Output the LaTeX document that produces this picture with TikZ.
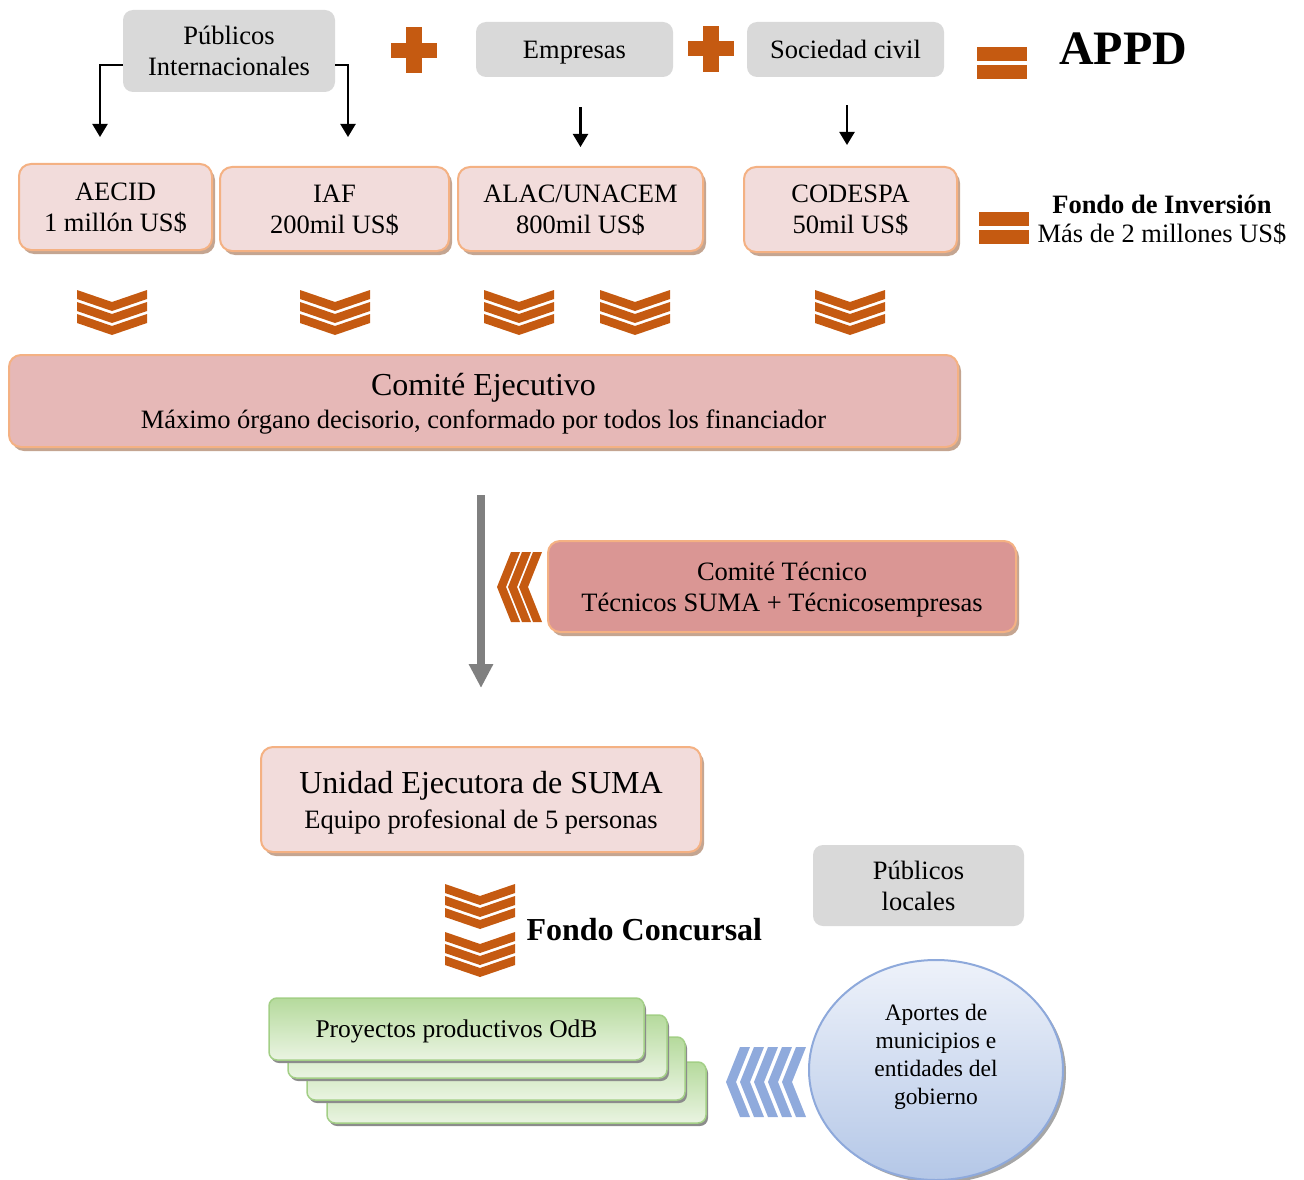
\documentclass[tikz,border=0pt]{standalone}
\usepackage{fontspec}
\setmainfont{Liberation Serif}
\usetikzlibrary{arrows.meta,shapes.geometric,shadows}

\definecolor{naranja}{HTML}{C55A11}
\definecolor{grisclaro}{HTML}{D9D9D9}
\definecolor{rosaclaro}{HTML}{F2DCDB}
\definecolor{rosamedio}{HTML}{E6B8B7}
\definecolor{rosaoscuro}{HTML}{DA9694}
\definecolor{durazno}{HTML}{F4B183}
\definecolor{sombra}{HTML}{C4A591}
\definecolor{verdeborde}{HTML}{A3CF86}
\definecolor{verdeosc}{HTML}{B5DA9C}
\definecolor{verdeclaro}{HTML}{EAF4E2}
\definecolor{azulborde}{HTML}{8EA9DB}
\definecolor{azulchev}{HTML}{8FAADC}
\definecolor{azulclaro}{HTML}{EEF2FA}
\definecolor{azulosc}{HTML}{B4C7E7}

\tikzset{
  texto/.style={font=\fontsize{26.5}{31}\selectfont, text depth=0pt},
  gris/.style={texto, fill=grisclaro, rounded corners=10pt, align=center, inner sep=0pt},
  rosa/.style={texto, fill=rosaclaro, draw=durazno, line width=2pt, rounded corners=12pt,
    align=center, inner sep=0pt,
    drop shadow={shadow xshift=3pt, shadow yshift=-4pt, fill=sombra, opacity=1}},
  verde/.style={draw=verdeborde, line width=1.5pt, rounded corners=8pt,
    top color=verdeosc, bottom color=verdeclaro, inner sep=0pt,
    drop shadow={shadow xshift=2pt, shadow yshift=-3pt, fill=black!45, opacity=1}},
  flecha/.style={line width=2.2pt, -{Triangle[width=15pt,length=13pt]}},
  flechagris/.style={line width=8pt, draw=black!50, -{Triangle[width=23pt,length=24pt]}}
}

\begin{document}
\begin{tikzpicture}[x=1pt,y=-1pt]
  \useasboundingbox (0,0) rectangle (1304,1180);

  \node[gris, minimum width=212pt, minimum height=82pt] (pubint) at (229,51) {Públicos\\Internacionales};
  \node[gris, minimum width=197pt, minimum height=55pt] (empresas) at (574.5,49.5) {Empresas};
  \node[gris, minimum width=197pt, minimum height=55pt] (sociedad) at (845.5,49.5) {Sociedad civil};

  \foreach \cx/\cy in {414/50.5, 711/49}
  {
    \fill[naranja] (\cx-23,\cy-7.5) rectangle (\cx+23,\cy+7.5);
    \fill[naranja] (\cx-8,\cy-23) rectangle (\cx+8,\cy+23);
  }
  \fill[naranja] (977,47) rectangle (1027,61);
  \fill[naranja] (977,65) rectangle (1027,79);
  \node[anchor=base, font=\bfseries\fontsize{48}{50}\selectfont] (appd) at (1123,65) {APPD};

  \node[rosa, minimum width=193pt, minimum height=86pt] (aecid) at (115.5,207) {AECID\\1 millón US\$};
  \node[rosa, minimum width=229pt, minimum height=84pt] (iaf) at (334.5,209) {IAF\\200mil US\$};
  \node[rosa, minimum width=245pt, minimum height=84pt] (alac) at (580.5,209) {ALAC/UNACEM\\800mil US\$};
  \node[rosa, minimum width=213pt, minimum height=85pt] (codespa) at (850.5,209.5) {CODESPA\\50mil US\$};

  \fill[naranja] (979,212) rectangle (1029,226);
  \fill[naranja] (979,230) rectangle (1029,244);
  \node[align=center, font=\fontsize{26.5}{29}\selectfont] (fondoinv) at (1162,220) {\textbf{Fondo de Inversión}\\Más de 2 millones US\$};

  \coordinate (pil) at (100,137);
  \coordinate (pir) at (348,137);
  \draw[flecha] ([yshift=-14pt]pubint.west) -| (pil);
  \draw[flecha] ([yshift=-14pt]pubint.east) -| (pir);
  \draw[flecha] ([yshift=-30pt]empresas.south -| alac.north) -- ([yshift=19pt]alac.north);
  \draw[flecha] ([yshift=-28pt]sociedad.south -| 847,0) -- ([yshift=21pt]codespa.north -| 847,0);

  \foreach \cx in {112,335,519,635,850}
    \foreach \i in {0,1,2}
      \fill[naranja] (\cx-35,290+12*\i) -- (\cx,302+12*\i) -- (\cx+35,290+12*\i)
        -- (\cx+35,299+12*\i) -- (\cx,311+12*\i) -- (\cx-35,299+12*\i) -- cycle;

  \node[rosa, fill=rosamedio, minimum width=949pt, minimum height=92pt, font=\fontsize{26.5}{33}\selectfont] (comejec) at (483.5,401)
    {{\fontsize{32}{33}\selectfont Comité Ejecutivo}\\Máximo órgano decisorio, conformado por todos los financiador};

  \coordinate (gini) at (481,495);
  \coordinate (gfin) at (481,688);
  \draw[flechagris] (gini) -- (gfin);

  \node[rosa, fill=rosaoscuro, minimum width=468pt, minimum height=91pt] (comtec) at (782,586.5)
    {Comité Técnico\\Técnicos SUMA + Técnicosempresas};
  \foreach \i in {0,1,2}
    \fill[naranja] (511+11*\i,552) -- (497+11*\i,587) -- (511+11*\i,622)
      -- (520+11*\i,622) -- (506+11*\i,587) -- (520+11*\i,552) -- cycle;

  \node[rosa, minimum width=440pt, minimum height=105pt, font=\fontsize{26.5}{35}\selectfont] (unidad) at (481,799.5)
    {{\fontsize{32}{35}\selectfont Unidad Ejecutora de SUMA}\\Equipo profesional de 5 personas};

  \foreach \cy in {884,932}
    \foreach \i in {0,1,2}
      \fill[naranja] (445,\cy+12*\i) -- (480,\cy+12+12*\i) -- (515,\cy+12*\i)
        -- (515,\cy+9+12*\i) -- (480,\cy+21+12*\i) -- (445,\cy+9+12*\i) -- cycle;
  \node[anchor=base west, font=\bfseries\fontsize{32}{36}\selectfont] (concursal) at (523,940) {Fondo Concursal};

  \node[gris, minimum width=211pt, minimum height=81pt] (publoc) at (918.5,885.5) {Públicos\\locales};

  \node[verde, minimum width=379pt, minimum height=61pt] (proy4) at (516.5,1092.5) {};
  \node[verde, minimum width=378pt, minimum height=63pt] (proy3) at (496,1068.5) {};
  \node[verde, minimum width=379pt, minimum height=63pt] (proy2) at (477.5,1046.5) {};
  \node[verde, minimum width=375pt, minimum height=62pt, font=\fontsize{25.5}{30}\selectfont, text depth=0pt] (proy1) at (456.5,1029) {Proyectos productivos OdB};

  \foreach \i in {0,...,4}
    \fill[azulchev] (740+14*\i,1047) -- (726+14*\i,1082) -- (740+14*\i,1117)
      -- (750+14*\i,1117) -- (736+14*\i,1082) -- (750+14*\i,1047) -- cycle;

  \node[ellipse, draw=azulborde, line width=2pt, top color=azulclaro, bottom color=azulosc,
    minimum width=254pt, minimum height=220pt, inner sep=0pt,
    drop shadow={shadow xshift=3pt, shadow yshift=-3pt, fill=black!35, opacity=1}] (aportes) at (936,1070) {};
  \node[align=center, font=\fontsize{23.5}{28}\selectfont] (aportestxt) at ([yshift=13pt]aportes.center)
    {Aportes de\\municipios e\\entidades del\\gobierno};
\end{tikzpicture}
\end{document}
